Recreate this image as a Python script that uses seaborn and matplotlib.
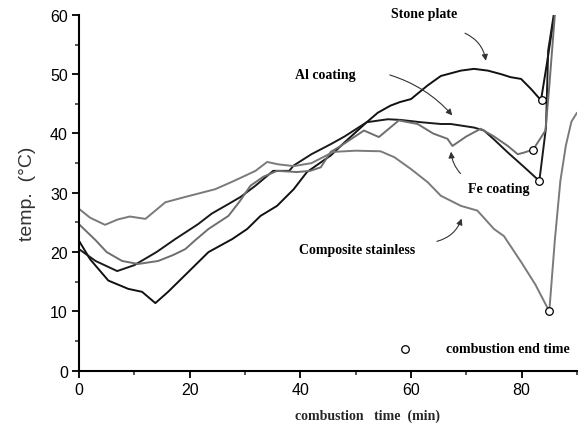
import seaborn as sns
from matplotlib import pyplot as plt
import pandas as pd

# combustion time (min) / temperature (C)
stone_x = [0, 2, 5.3, 8.9, 11.4, 13.8, 16.1, 19.7, 23.4, 27.7, 30.4, 32.8, 35.8, 38.8, 41.2, 45.5, 48, 52,
           54, 56.3, 58, 60, 63, 65.4, 69, 71.4, 73.9, 76.3, 78, 79.9, 81.7, 83.5, 84.6, 85.9, 86.1]
stone_y = [21.9, 18.8, 15.2, 13.8, 13.3, 11.4, 13.3, 16.6, 20, 22.2, 23.9, 26.1, 27.8, 30.6, 33.5, 36.3, 38.5, 41.9,
           43.5, 44.7, 45.3, 45.8, 48.1, 49.7, 50.6, 50.9, 50.6, 50, 49.5, 49.2, 47.5, 45.6, 52, 60, 61.5]

al_x = [0, 3, 6.9, 10, 14, 17.4, 21.5, 24, 27, 29.2, 31.9, 35.1, 38, 38.8, 42, 45.5, 48, 52,
        55.8, 58, 61.8, 65.4, 67.2, 71.4, 73.2, 75, 77.5, 80.5, 83.2, 84.4, 84.8, 85.8, 86]
al_y = [20.5, 18.5, 16.8, 17.8, 20, 22.2, 24.7, 26.5, 28.1, 29.3, 31.2, 33.7, 33.7, 34.6, 36.5, 38.2, 39.5, 41.9,
        42.4, 42.3, 41.9, 41.6, 41.6, 41, 40.5, 39, 36.8, 34.3, 32, 41, 54, 60, 61.5]

fe_x = [0, 3, 5, 7.8, 10.7, 14.3, 17, 19.2, 21, 23.4, 27, 29, 31, 33.3, 35.8, 39.4, 41.8, 43.7, 45.5, 47.3,
        51.5, 54.2, 57.8, 61.2, 64, 66.6, 67.5, 70, 72.6, 75, 77.5, 79.3, 80.5, 82.1, 84.3, 85, 86, 86.2]
fe_y = [24.7, 22, 20, 18.5, 18, 18.5, 19.5, 20.5, 22, 23.9, 26.1, 28.5, 31.2, 32.7, 33.7, 33.5, 33.7, 34.3, 36.9, 37.9,
        40.5, 39.4, 42.2, 41.6, 40, 39.1, 37.9, 39.5, 40.8, 39.5, 37.9, 36.5, 36.8, 37.3, 40.5, 48, 60, 61.5]

comp_x = [0, 2, 4.7, 7, 9.2, 12, 15.6, 19.2, 24.6, 28, 31.9, 34, 36, 38.8, 42, 46, 50, 54.5, 57, 60,
          63, 65.4, 69, 72, 75, 76.8, 80, 82.5, 85, 86, 87, 88, 89, 90]
comp_y = [27.3, 25.8, 24.6, 25.5, 26, 25.6, 28.4, 29.3, 30.6, 32, 33.7, 35.2, 34.8, 34.5, 35, 36.9, 37.1, 37, 36, 34,
          31.8, 29.5, 27.8, 27, 23.9, 22.7, 18.2, 14.5, 10, 22, 32, 38, 42, 43.5]

end_x = [83.6, 82.1, 83.2, 85]
end_y = [45.6, 37.3, 32, 10]

series = {'Stone plate': (stone_x, stone_y), 'Al coating': (al_x, al_y),
          'Fe coating': (fe_x, fe_y), 'Composite stainless': (comp_x, comp_y)}
colors = {'Stone plate': '#111111', 'Al coating': '#1a1a1a',
          'Fe coating': '#6e6e6e', 'Composite stainless': '#7a7a7a'}

frames = []
for name, (xs, ys) in series.items():
    frames.append(pd.DataFrame({'time': xs, 'temp': ys, 'sample': name}))
df = pd.concat(frames, ignore_index=True)

sns.set_style('ticks')
plt.rcParams['font.family'] = ['Liberation Sans', 'DejaVu Sans']

fig = plt.figure(figsize=(5.78, 4.27), dpi=100)
ax = fig.add_axes([0.1367, 0.1295, 0.8615, 0.8333])

sns.lineplot(data=df, x='time', y='temp', hue='sample', palette=colors, sort=False,
             estimator=None, linewidth=1.4, legend=False, ax=ax)
sns.scatterplot(x=end_x, y=end_y, marker='o', s=30, color='white', edgecolor='black',
                linewidth=0.9, zorder=5, ax=ax)
sns.scatterplot(x=[59], y=[3.7], marker='o', s=30, color='white', edgecolor='black',
                linewidth=0.9, zorder=5, ax=ax)

ax.set_xlim(0, 90)
ax.set_ylim(0, 60)
ax.set_xticks([0, 20, 40, 60, 80])
ax.set_xticks([10, 30, 50, 70, 90], minor=True)
ax.set_yticks([0, 10, 20, 30, 40, 50, 60])
ax.set_yticks([5, 15, 25, 35, 45, 55], minor=True)
ax.tick_params(which='major', direction='out', length=5, width=1.3, labelsize=11.5, colors='black', pad=3)
ax.tick_params(which='minor', direction='out', length=3, width=1.1)
sns.despine(ax=ax)
for side in ['left', 'bottom']:
    ax.spines[side].set_linewidth(1.5)
    ax.spines[side].set_color('black')

serif = dict(family=['Liberation Serif', 'DejaVu Serif'], fontweight='bold', fontsize=10, color='black')
ax.text(62.3, 60.2, 'Stone plate', ha='center', va='center', clip_on=False, **serif)
ax.text(44.6, 49.9, 'Al coating', ha='center', va='center', **serif)
ax.text(75.8, 30.8, 'Fe coating', ha='center', va='center', **serif)
ax.text(50.2, 20.5, 'Composite stainless', ha='center', va='center', **serif)
ax.text(77.5, 3.7, 'combustion end time', ha='center', va='center', **serif)

arrow = dict(arrowstyle='-|>', color='#333333', lw=0.8, mutation_scale=9)
ax.annotate('', xy=(73.6, 51.8), xytext=(69.3, 57.1),
            arrowprops=dict(connectionstyle='arc3,rad=-0.3', **arrow))
ax.annotate('', xy=(67.8, 42.7), xytext=(55.7, 50),
            arrowprops=dict(connectionstyle='arc3,rad=-0.15', **arrow))
ax.annotate('', xy=(67.2, 37.4), xytext=(69.3, 32.9),
            arrowprops=dict(connectionstyle='arc3,rad=-0.2', **arrow))
ax.annotate('', xy=(69.3, 26.1), xytext=(64.2, 21.7),
            arrowprops=dict(connectionstyle='arc3,rad=0.3', **arrow))

ax.set_xlabel('combustion   time  (min)', fontdict=dict(family=['Liberation Serif', 'DejaVu Serif'],
              fontweight='bold', fontsize=10))
ax.xaxis.set_label_coords(0.58, -0.105)
ax.set_ylabel('temp.  (°C)', fontsize=14, color='#333333', labelpad=10)

fig.savefig('out.png', dpi=100)
